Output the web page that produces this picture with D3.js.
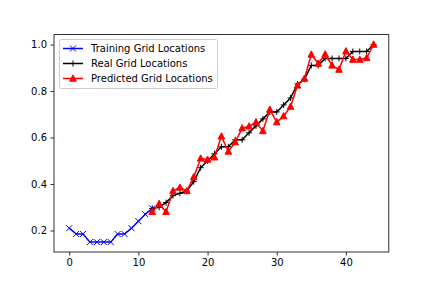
<!DOCTYPE html>
<html>
<head>
<meta charset="utf-8">
<script src="https://cdn.jsdelivr.net/npm/d3@7"></script>
<style>
  body { margin: 0; background: #fff; }
  text { font-family: "DejaVu Sans", sans-serif; }
</style>
</head>
<body>
<svg id="svg"></svg>
<script>
var width = 432;
var height = 288;

// training part (x = 0..12)
var trainX = d3.range(0, 13);
var trainY = [0.21, 0.185, 0.185, 0.15, 0.15, 0.15, 0.15, 0.185, 0.185, 0.21, 0.24, 0.27, 0.295];

// real and predicted (x = 12..44)
var testX = d3.range(12, 45);
var realY = [0.295, 0.30, 0.32, 0.35, 0.36, 0.37, 0.41, 0.47, 0.50, 0.53, 0.56, 0.56, 0.59, 0.59, 0.62,
             0.65, 0.68, 0.71, 0.71, 0.74, 0.77, 0.83, 0.85, 0.91, 0.91, 0.94, 0.94, 0.94, 0.94,
             0.97, 0.97, 0.97, 1.0];
var predY = [0.28, 0.315, 0.28, 0.37, 0.385, 0.37, 0.43, 0.51, 0.505, 0.515, 0.605, 0.54, 0.58, 0.64, 0.648,
             0.666, 0.628, 0.72, 0.666, 0.692, 0.733, 0.824, 0.853, 0.957, 0.918, 0.958, 0.91, 0.892, 0.971,
             0.935, 0.935, 0.942, 1.0];

var xTicks = [0, 10, 20, 30, 40];
var yTicks = [0.2, 0.4, 0.6, 0.8, 1.0];
var labels = ["Training Grid Locations", "Real Grid Locations", "Predicted Grid Locations"];

// plot area (don't call it "top", that's window.top)
var mLeft = 54, mRight = 388.8, mTop = 34.6, mBottom = 252;

var svg = d3.select("#svg")
    .attr("width", width)
    .attr("height", height);

var x = d3.scaleLinear().domain([-2.2, 46.2]).range([mLeft, mRight]);
var y = d3.scaleLinear().domain([0.1075, 1.0425]).range([mBottom, mTop]);

// axes
svg.append("g")
    .attr("transform", "translate(0," + mBottom + ")")
    .call(d3.axisBottom(x).tickValues(xTicks).tickSize(3.5).tickPadding(3.5).tickFormat(d3.format("d")))
    .call(g => g.select(".domain").remove())
    .call(g => g.selectAll("text").attr("font-size", 10).attr("fill", "#000").attr("font-family", "DejaVu Sans"));

svg.append("g")
    .attr("transform", "translate(" + mLeft + ",0)")
    .call(d3.axisLeft(y).tickValues(yTicks).tickSize(3.5).tickPadding(3.5).tickFormat(d3.format(".1f")))
    .call(g => g.select(".domain").remove())
    .call(g => g.selectAll("text").attr("font-size", 10).attr("fill", "#000").attr("font-family", "DejaVu Sans"));

svg.selectAll(".tick line").attr("stroke", "#000").attr("stroke-width", 0.8);

svg.append("rect")
    .attr("x", mLeft).attr("y", mTop)
    .attr("width", mRight - mLeft).attr("height", mBottom - mTop)
    .attr("fill", "none").attr("stroke", "#000").attr("stroke-width", 0.8);

var line = d3.line().x(d => x(d[0])).y(d => y(d[1]));

function xMark(g, cx, cy, col) {
  g.append("path")
    .attr("d", "M" + (cx - 3) + "," + (cy - 3) + "L" + (cx + 3) + "," + (cy + 3) +
               "M" + (cx - 3) + "," + (cy + 3) + "L" + (cx + 3) + "," + (cy - 3))
    .attr("stroke", col).attr("stroke-width", 1);
}
function plusMark(g, cx, cy, col) {
  g.append("path")
    .attr("d", "M" + (cx - 3) + "," + cy + "L" + (cx + 3) + "," + cy +
               "M" + cx + "," + (cy - 3) + "L" + cx + "," + (cy + 3))
    .attr("stroke", col).attr("stroke-width", 1);
}
function triMark(g, cx, cy, col) {
  g.append("path")
    .attr("d", "M" + cx + "," + (cy - 3.6) + "L" + (cx + 3.3) + "," + (cy + 2.7) + "L" + (cx - 3.3) + "," + (cy + 2.7) + "Z")
    .attr("fill", col).attr("stroke", col).attr("stroke-width", 1);
}

var series = [
  { xs: trainX, ys: trainY, color: "#0000ff", mark: xMark },
  { xs: testX, ys: realY, color: "#000000", mark: plusMark },
  { xs: testX, ys: predY, color: "#ff0000", mark: triMark }
];

series.forEach(function(s) {
  var pts = s.xs.map((d, i) => [d, s.ys[i]]);
  var g = svg.append("g");
  g.append("path")
    .attr("d", line(pts))
    .attr("fill", "none")
    .attr("stroke", s.color)
    .attr("stroke-width", 1.5)
    .attr("stroke-linejoin", "round");
  pts.forEach(p => s.mark(g, x(p[0]), y(p[1]), s.color));
});

// legend
var lg = svg.append("g");
lg.append("rect")
    .attr("x", 59.5).attr("y", 39.5)
    .attr("width", 158).attr("height", 49)
    .attr("rx", 2)
    .attr("fill", "#fff").attr("fill-opacity", 0.8)
    .attr("stroke", "#cccccc").attr("stroke-width", 1);

labels.forEach(function(l, i) {
  var cy = 48.5 + i * 15;
  var s = series[i];
  lg.append("line")
    .attr("x1", 63).attr("x2", 83)
    .attr("y1", cy).attr("y2", cy)
    .attr("stroke", s.color).attr("stroke-width", 1.5);
  s.mark(lg, 73, cy, s.color);
  lg.append("text")
    .attr("x", 91)
    .attr("y", cy)
    .attr("dy", "0.35em")
    .attr("font-size", 10)
    .attr("fill", "#000")
    .text(l);
});
</script>
</body>
</html>
